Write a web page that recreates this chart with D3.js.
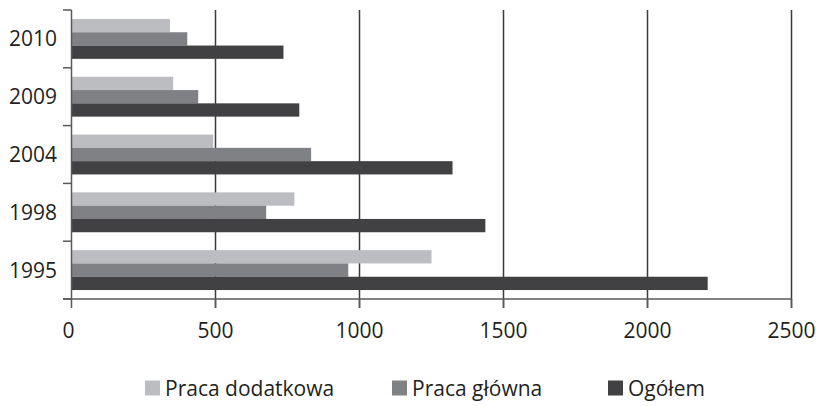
<!DOCTYPE html>
<html>
<head>
<meta charset="utf-8">
<script src="https://cdn.jsdelivr.net/npm/d3@7"></script>
<style>
  body { margin: 0; background: #fff; }
  text { font-family: "Open Sans", "Noto Sans", sans-serif; fill: #231f20; }
</style>
</head>
<body>
<svg width="816" height="406"></svg>
<script>
// data
const years = ["2010", "2009", "2004", "1998", "1995"];
const seriesNames = ["Praca dodatkowa", "Praca główna", "Ogółem"];
const dodatkowa = [342, 353, 492, 774, 1250];
const glowna = [402, 440, 832, 676, 961];
const ogolem = [736, 791, 1323, 1437, 2209];
const xTicks = [0, 500, 1000, 1500, 2000, 2500];
const colors = ["#bcbdc0", "#808184", "#414042"];

const svg = d3.select("svg");
const values = [dodatkowa, glowna, ogolem];

const x = d3.scaleLinear().domain([0, 2500]).range([71.5, 791.5]);
const y0 = d3.scaleBand().domain(years).range([10, 299]).paddingInner(0.31).paddingOuter(0.155);
const y1 = d3.scaleBand().domain(d3.range(3)).range([0, y0.bandwidth()]);

// vertical gridlines
svg.append("g")
    .selectAll("line")
    .data(xTicks.slice(1))
    .enter().append("line")
    .attr("x1", d => x(d)).attr("x2", d => x(d))
    .attr("y1", 10).attr("y2", 308)
    .attr("stroke", "#3a3a3c")
    .attr("stroke-width", 1.5);

// bars
const groups = svg.append("g")
    .selectAll("g")
    .data(years)
    .enter().append("g")
    .attr("transform", d => `translate(0,${y0(d)})`);

groups.selectAll("rect")
    .data((d, i) => values.map((s, k) => ({ k: k, v: s[i] })))
    .enter().append("rect")
    .attr("x", x(0))
    .attr("y", d => y1(d.k))
    .attr("width", d => x(d.v) - x(0))
    .attr("height", y1.bandwidth())
    .attr("fill", d => colors[d.k]);

// left axis: line + ticks at the category boundaries
const step = y0.step();
const bounds = d3.range(years.length + 1).map(i => 10 + i * step);
svg.append("line")
    .attr("x1", x(0)).attr("x2", x(0))
    .attr("y1", 10).attr("y2", 299)
    .attr("stroke", "#58595b").attr("stroke-width", 1.5);
svg.append("g").selectAll("line")
    .data(bounds)
    .enter().append("line")
    .attr("x1", 63).attr("x2", x(0))
    .attr("y1", d => d).attr("y2", d => d)
    .attr("stroke", "#58595b").attr("stroke-width", 1.5);

svg.append("g").selectAll("text")
    .data(years)
    .enter().append("text")
    .attr("x", 57)
    .attr("y", d => y0(d) + y0.bandwidth() / 2)
    .attr("text-anchor", "end")
    .attr("dy", "0.36em")
    .style("font-size", "21px")
    .text(d => d);

// bottom axis
svg.append("line")
    .attr("x1", 63).attr("x2", x(2500))
    .attr("y1", 299).attr("y2", 299)
    .attr("stroke", "#58595b").attr("stroke-width", 1.5);
svg.append("g").selectAll("line")
    .data(xTicks)
    .enter().append("line")
    .attr("x1", d => x(d)).attr("x2", d => x(d))
    .attr("y1", 299).attr("y2", 308)
    .attr("stroke", "#58595b").attr("stroke-width", 1.5);
svg.append("g").selectAll("text")
    .data(xTicks)
    .enter().append("text")
    .attr("x", d => x(d) - (d === 0 ? 3 : 0))
    .attr("y", 330)
    .attr("dy", "0.36em")
    .attr("text-anchor", "middle")
    .style("font-size", "21px")
    .text(d => d);

// legend
const legendX = [145, 392, 608];
const legend = svg.append("g").selectAll("g")
    .data(seriesNames)
    .enter().append("g")
    .attr("transform", (d, i) => `translate(${legendX[i]},388)`);
legend.append("rect")
    .attr("x", 0).attr("y", -7.5)
    .attr("width", 15).attr("height", 15)
    .attr("fill", (d, i) => colors[i]);
legend.append("text")
    .attr("x", 20)
    .attr("dy", "0.36em")
    .style("font-size", "21px")
    .text(d => d);
</script>
</body>
</html>
